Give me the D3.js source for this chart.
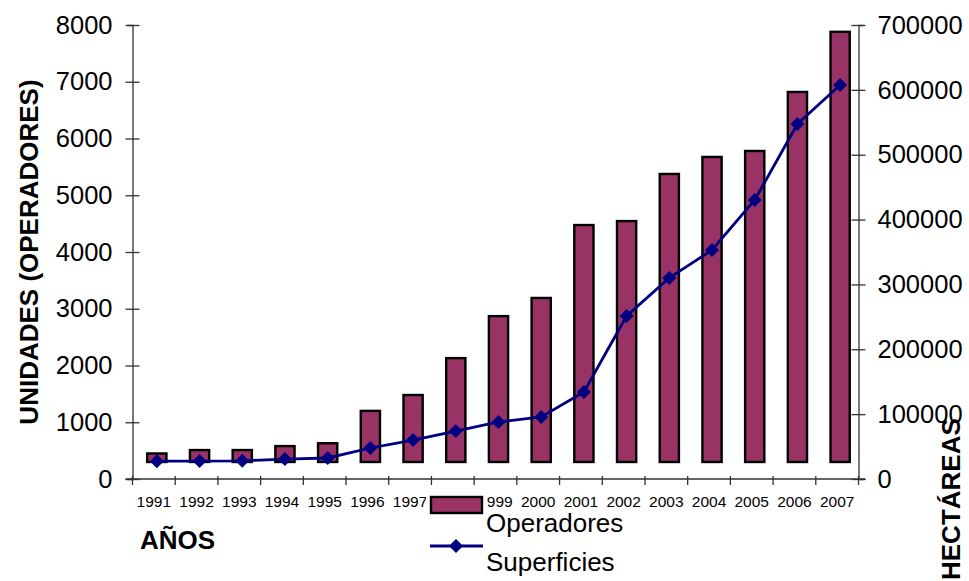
<!DOCTYPE html>
<html>
<head>
<meta charset="utf-8">
<script src="https://cdn.jsdelivr.net/npm/d3@7"></script>
<style>
  body { margin: 0; background: #fff; }
  text { font-family: "Liberation Sans", Arial, sans-serif; }
</style>
</head>
<body>
<div id="chart"></div>
<script>
// data
var years = ["1991", "1992", "1993", "1994", "1995", "1996", "1997", "1998", "1999",
             "2000", "2001", "2002", "2003", "2004", "2005", "2006", "2007"];
var operadores = [450, 510, 510, 580, 630, 1200, 1480, 2130, 2870,
                  3190, 4475, 4545, 5375, 5675, 5780, 6820, 7880];
var superficies = [27500, 27700, 28000, 30800, 32400, 47800, 60100, 74000, 87900,
                   95600, 134100, 251300, 310000, 353100, 430200, 547400, 607500];
var leftTicks = [0, 1000, 2000, 3000, 4000, 5000, 6000, 7000, 8000];
var rightTicks = [0, 100000, 200000, 300000, 400000, 500000, 600000, 700000];
var barBase = 300; // bars start a little above zero in the original

var width = 969, height = 581;
var plotLeft = 132.5, plotRight = 858.5, plotTop = 25, plotBottom = 479;

var svg = d3.select("#chart").append("svg")
    .attr("width", width)
    .attr("height", height);

var x = d3.scaleBand().domain(years).range([plotLeft, plotRight]);
var barOff = 0.345, barW = 0.45; // bars sit a bit right of the band centre
var cx = function (i) { return x(years[i]) + x.bandwidth() * (barOff + barW / 2); };
var yL = d3.scaleLinear().domain([0, 8000]).range([plotBottom, plotTop]);
var yR = d3.scaleLinear().domain([0, 700000]).range([plotBottom, plotTop]);

// bars
svg.selectAll("rect.bar")
    .data(operadores)
    .enter()
    .append("rect")
    .attr("class", "bar")
    .attr("x", function (d, i) { return x(years[i]) + x.bandwidth() * barOff; })
    .attr("y", function (d) { return yL(d); })
    .attr("width", x.bandwidth() * barW)
    .attr("height", function (d) { return yL(barBase) - yL(d); })
    .attr("fill", "#993366")
    .attr("stroke", "#000")
    .attr("stroke-width", 2.4);

// line
var line = d3.line()
    .x(function (d, i) { return cx(i); })
    .y(function (d) { return yR(d); });

svg.append("path")
    .datum(superficies)
    .attr("d", line)
    .attr("fill", "none")
    .attr("stroke", "#000080")
    .attr("stroke-width", 2.8);

var diamond = d3.symbol().type(d3.symbolDiamond2).size(125);
svg.selectAll("path.pt")
    .data(superficies)
    .enter()
    .append("path")
    .attr("class", "pt")
    .attr("d", diamond)
    .attr("transform", function (d, i) {
        return "translate(" + cx(i) + "," + yR(d) + ")";
    })
    .attr("fill", "#000080");

// axes
var axisColor = "#333";
var gl = svg.append("g").attr("transform", "translate(" + plotLeft + ",0)")
    .call(d3.axisLeft(yL).tickValues(leftTicks).tickFormat(d3.format("d")).tickSize(5));
var gr = svg.append("g").attr("transform", "translate(" + plotRight + ",0)")
    .call(d3.axisRight(yR).tickValues(rightTicks).tickFormat(d3.format("d")).tickSize(5));
[gl, gr].forEach(function (g) {
    g.select(".domain").attr("stroke", axisColor).attr("stroke-width", 1.3);
    g.selectAll(".tick line").attr("stroke", axisColor).attr("stroke-width", 1.3)
        .attr("x1", -7).attr("x2", 7);
    g.selectAll(".tick text").attr("font-size", 25.5).attr("fill", "#000")
        .attr("font-family", "Liberation Sans, Arial, sans-serif");
});
gl.selectAll(".tick text").attr("x", -20);
gr.selectAll(".tick text").attr("x", 19);

// x axis: ticks between categories
var gx = svg.append("g");
gx.append("line")
    .attr("x1", plotLeft - 7).attr("x2", plotRight + 7)
    .attr("y1", plotBottom).attr("y2", plotBottom)
    .attr("stroke", axisColor).attr("stroke-width", 1.3);
gx.selectAll("line.xt")
    .data(years.concat(["end"]))
    .enter()
    .append("line")
    .attr("class", "xt")
    .attr("x1", function (d, i) { return i < years.length ? x(d) : plotRight; })
    .attr("x2", function (d, i) { return i < years.length ? x(d) : plotRight; })
    .attr("y1", plotBottom - 3).attr("y2", plotBottom + 6)
    .attr("stroke", axisColor).attr("stroke-width", 1.3);
gx.selectAll("text.xl")
    .data(years)
    .enter()
    .append("text")
    .attr("class", "xl")
    .attr("x", function (d) { return x(d) + x.bandwidth() / 2; })
    .attr("y", 507)
    .attr("text-anchor", "middle")
    .attr("font-size", 15.5)
    .text(function (d) { return d; });

// axis titles
svg.append("text")
    .attr("transform", "translate(38,252) rotate(-90)")
    .attr("text-anchor", "middle")
    .attr("font-size", 26)
    .attr("font-weight", "bold")
    .text("UNIDADES (OPERADORES)");
svg.append("text")
    .attr("x", 140).attr("y", 549)
    .attr("font-size", 26)
    .attr("font-weight", "bold")
    .text("AÑOS");

// legend
var lg = svg.append("g");
lg.append("rect")
    .attr("x", 426).attr("y", 490).attr("width", 61).attr("height", 91)
    .attr("fill", "#fff");
lg.append("rect")
    .attr("x", 431).attr("y", 497).attr("width", 51).attr("height", 16)
    .attr("fill", "#993366").attr("stroke", "#000").attr("stroke-width", 2.4);
lg.append("text")
    .attr("x", 486).attr("y", 532)
    .attr("font-size", 26)
    .text("Operadores");
lg.append("line")
    .attr("x1", 430).attr("x2", 483).attr("y1", 546).attr("y2", 546)
    .attr("stroke", "#000080").attr("stroke-width", 2.8);
lg.append("path")
    .attr("d", diamond)
    .attr("transform", "translate(456,546)")
    .attr("fill", "#000080");
lg.append("text")
    .attr("x", 486).attr("y", 571)
    .attr("font-size", 26)
    .text("Superficies");

svg.append("text")
    .attr("transform", "translate(960,580) rotate(-90)")
    .attr("text-anchor", "start")
    .attr("font-size", 26)
    .attr("font-weight", "bold")
    .text("HECTÁREAS");
</script>
</body>
</html>
